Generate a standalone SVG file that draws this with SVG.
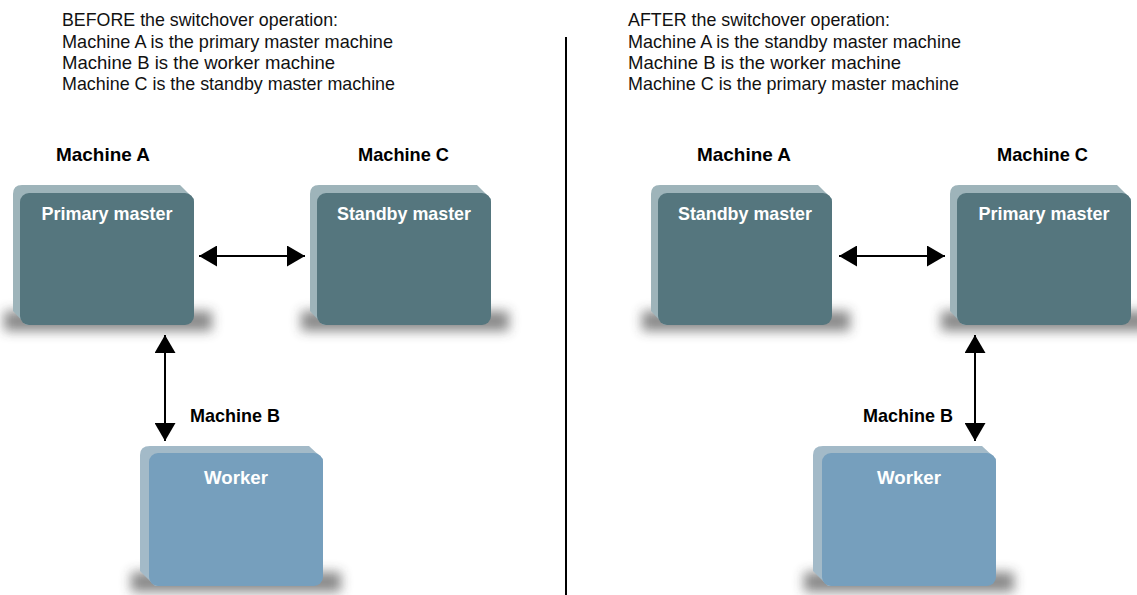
<svg xmlns="http://www.w3.org/2000/svg" xmlns:xlink="http://www.w3.org/1999/xlink" width="1137" height="595" viewBox="0 0 1137 595">
<style>
text{font-family:"Liberation Sans Narrow","Liberation Sans",Arial,sans-serif;}
.hdr{font-size:19px;fill:#111;}
.lbl{font-size:19px;font-weight:bold;fill:#000;}
.inner{font-size:19px;font-weight:bold;fill:#fff;text-anchor:middle;}
.mback{fill:#9eb4ba;}
.mfront{fill:#55767e;}
.wback{fill:#a3bac8;}
.wfront{fill:#769fbd;}
.shadow{fill:#3a3a3a;opacity:0.6;}
.conn{stroke:#000;stroke-width:2;fill:none;}
</style>
<defs>
<filter id="blur" x="-30%" y="-150%" width="160%" height="400%"><feGaussianBlur stdDeviation="6"/></filter>
<marker id="ah" viewBox="0 0 18 21" refX="18" refY="10.5" markerWidth="18" markerHeight="21" markerUnits="userSpaceOnUse" orient="auto-start-reverse"><path d="M0,0 L18,10.5 L0,21 Z" fill="#000"/></marker>
<g id="masterBox">
<rect class="shadow" x="-16" y="118" width="208" height="20" filter="url(#blur)"/>
<path class="mback" d="M2,-8 L160,-8 L174,6 L174,123 L6,132 L-7,118 L-7,1 Q-7,-8 2,-8 Z"/>
<rect class="mfront" x="0" y="0" width="174" height="132" rx="9"/>
</g>
<g id="workerBox">
<rect class="shadow" x="-18" y="119" width="210" height="20" filter="url(#blur)"/>
<path class="wback" d="M1,-7 L160,-7 L174,6 L174,124 L6,133 L-9,118 L-9,2 Q-9,-7 1,-7 Z"/>
<rect class="wfront" x="0" y="0" width="174" height="133" rx="9"/>
</g>
</defs>
<rect width="1137" height="595" fill="#fff"/>

<g id="header-before">
<text class="hdr" x="62" y="26" textLength="276" lengthAdjust="spacingAndGlyphs">BEFORE the switchover operation:</text>
<text class="hdr" x="62" y="48" textLength="331" lengthAdjust="spacingAndGlyphs">Machine A is the primary master machine</text>
<text class="hdr" x="62" y="69" textLength="273" lengthAdjust="spacingAndGlyphs">Machine B is the worker machine</text>
<text class="hdr" x="62" y="90" textLength="333" lengthAdjust="spacingAndGlyphs">Machine C is the standby master machine</text>
</g>
<g id="header-after">
<text class="hdr" x="628" y="26" textLength="262" lengthAdjust="spacingAndGlyphs">AFTER the switchover operation:</text>
<text class="hdr" x="628" y="48" textLength="333" lengthAdjust="spacingAndGlyphs">Machine A is the standby master machine</text>
<text class="hdr" x="628" y="69" textLength="273" lengthAdjust="spacingAndGlyphs">Machine B is the worker machine</text>
<text class="hdr" x="628" y="90" textLength="331" lengthAdjust="spacingAndGlyphs">Machine C is the primary master machine</text>
</g>

<line id="divider" x1="566" y1="37" x2="566" y2="595" stroke="#000" stroke-width="2"/>

<g id="before-machineA">
<text class="lbl" x="56" y="161" textLength="94" lengthAdjust="spacingAndGlyphs">Machine A</text>
<use xlink:href="#masterBox" transform="translate(20,193)"/>
<text class="inner" x="107" y="220" textLength="131" lengthAdjust="spacingAndGlyphs">Primary master</text>
</g>
<g id="before-machineC">
<text class="lbl" x="358" y="161" textLength="91" lengthAdjust="spacingAndGlyphs">Machine C</text>
<use xlink:href="#masterBox" transform="translate(317,193)"/>
<text class="inner" x="404" y="220" textLength="134" lengthAdjust="spacingAndGlyphs">Standby master</text>
</g>
<g id="before-machineB">
<text class="lbl" x="190" y="422" textLength="90" lengthAdjust="spacingAndGlyphs">Machine B</text>
<use xlink:href="#workerBox" transform="translate(149,453)"/>
<text class="inner" x="236" y="484" textLength="64" lengthAdjust="spacingAndGlyphs">Worker</text>
</g>

<g id="after-machineA">
<text class="lbl" x="697" y="161" textLength="94" lengthAdjust="spacingAndGlyphs">Machine A</text>
<use xlink:href="#masterBox" transform="translate(658,193)"/>
<text class="inner" x="745" y="220" textLength="134" lengthAdjust="spacingAndGlyphs">Standby master</text>
</g>
<g id="after-machineC">
<text class="lbl" x="997" y="161" textLength="91" lengthAdjust="spacingAndGlyphs">Machine C</text>
<use xlink:href="#masterBox" transform="translate(957,193)"/>
<text class="inner" x="1044" y="220" textLength="131" lengthAdjust="spacingAndGlyphs">Primary master</text>
</g>
<g id="after-machineB">
<text class="lbl" x="863" y="422" textLength="90" lengthAdjust="spacingAndGlyphs">Machine B</text>
<use xlink:href="#workerBox" transform="translate(822,453)"/>
<text class="inner" x="909" y="484" textLength="64" lengthAdjust="spacingAndGlyphs">Worker</text>
</g>

<g id="connectors">
<line class="conn" x1="199" y1="256" x2="305" y2="256" marker-start="url(#ah)" marker-end="url(#ah)"/>
<line class="conn" x1="165" y1="335" x2="165" y2="441" marker-start="url(#ah)" marker-end="url(#ah)"/>
<line class="conn" x1="839" y1="256" x2="945" y2="256" marker-start="url(#ah)" marker-end="url(#ah)"/>
<line class="conn" x1="975" y1="335" x2="975" y2="441" marker-start="url(#ah)" marker-end="url(#ah)"/>
</g>
</svg>
